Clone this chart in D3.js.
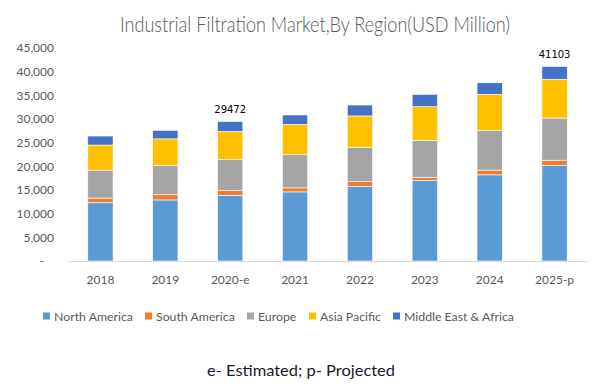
<!DOCTYPE html>
<html><head><meta charset="utf-8">
<script src="https://cdn.jsdelivr.net/npm/d3@7"></script>
<style>body{margin:0;background:#fff}svg{display:block}</style>
</head><body>
<svg id="c" width="613" height="387"></svg>
<script>
const years = ["2018","2019","2020-e","2021","2022","2023","2024","2025-p"];
const regions = ["North America","South America","Europe","Asia Pacific","Middle East & Africa"];
const northAmerica = [12300,12900,13850,14600,15700,17000,18200,20150];
const southAmerica = [1000,1100,1000,850,1050,700,1000,1150];
const europe = [5900,6200,6650,7000,7300,7800,8400,8903];
const asiaPacific = [5300,5600,5850,6400,6600,7100,7600,8200];
const middleEastAfrica = [1900,1800,2122,2000,2300,2600,2450,2700];
const totalLabels = [null,null,"29472",null,null,null,null,"41103"];
const yTicks = [0,5000,10000,15000,20000,25000,30000,35000,40000,45000];
const colors = ["#5B9BD5","#ED7D31","#A5A5A5","#FFC000","#4472C4"];

(function(){
const series = [northAmerica,southAmerica,europe,asiaPacific,middleEastAfrica];
const rows = years.map((y,i)=>{const r={year:y}; regions.forEach((k,j)=>r[k]=series[j][i]); return r;});
const stacked = d3.stack().keys(regions)(rows);

const svg = d3.select("#c");
const font = "Lato, 'Open Sans', sans-serif";
const x = d3.scaleBand().domain(years).range([68,587]).paddingInner(0.61).paddingOuter(0.305);
const y = d3.scaleLinear().domain([0,45000]).range([261,48]);

// title
svg.append("text").attr("x",315).attr("y",32).attr("text-anchor","middle")
  .attr("font-family",font).attr("font-size",21).attr("font-weight",300).attr("fill","#595959")
  .attr("textLength",390).attr("lengthAdjust","spacingAndGlyphs")
  .text("Industrial Filtration Market,By Region(USD Million)");

// y axis
const yAxis = d3.axisLeft(y).tickValues(yTicks).tickSize(0).tickPadding(0)
  .tickFormat(d=> d===0 ? "-" : d3.format(",")(d));
const ga = svg.append("g").attr("transform","translate(54,0)").call(yAxis);
ga.select(".domain").remove();
ga.selectAll("text").attr("font-family",font).attr("font-size",12).attr("fill","#595959")
  .attr("dx",d=>d===0?-10:0);

// bars
svg.append("g").selectAll("g").data(stacked).join("g").attr("fill",(d,i)=>colors[i])
  .selectAll("rect").data(d=>d).join("rect")
  .attr("x",d=>x(d.data.year)).attr("width",x.bandwidth())
  .attr("y",d=>y(d[1])).attr("height",d=>y(d[0])-y(d[1]))
  .attr("stroke","#fff").attr("stroke-width",0.6);

// x axis
const xAxis = d3.axisBottom(x).tickSize(0).tickPadding(14);
const gx = svg.append("g").attr("transform","translate(0,261)").call(xAxis);
gx.select(".domain").attr("stroke","#D9D9D9").attr("stroke-width",1.2);
gx.selectAll("text").attr("font-family",font).attr("font-size",12).attr("fill","#595959");

// total labels
const topLayer = stacked[stacked.length-1];
svg.append("g").selectAll("text").data(years.map((yr,i)=>({yr,lab:totalLabels[i],v:topLayer[i][1]})).filter(d=>d.lab))
  .join("text").attr("x",d=>x(d.yr)+x.bandwidth()/2).attr("y",d=>y(d.v)-8)
  .attr("text-anchor","middle").attr("font-family","'DejaVu Sans', sans-serif").attr("font-size",10)
  .attr("fill","#000").text(d=>d.lab);

// legend
const legX = [43,145,247,309,393];
const lg = svg.append("g").selectAll("g").data(regions).join("g")
  .attr("transform",(d,i)=>`translate(${legX[i]},316)`);
lg.append("rect").attr("x",0).attr("y",-3.5).attr("width",7).attr("height",7).attr("fill",(d,i)=>colors[i]);
lg.append("text").attr("x",11).attr("y",4.5).attr("font-family",font).attr("font-size",12.3)
  .attr("fill","#595959").text(d=>d);

// footnote
svg.append("text").attr("x",207).attr("y",376).attr("font-family",font).attr("font-size",16)
  .attr("fill","#1a1a2a").attr("textLength",188).attr("lengthAdjust","spacingAndGlyphs")
  .text("e- Estimated; p- Projected");
})();
</script>
</body></html>
